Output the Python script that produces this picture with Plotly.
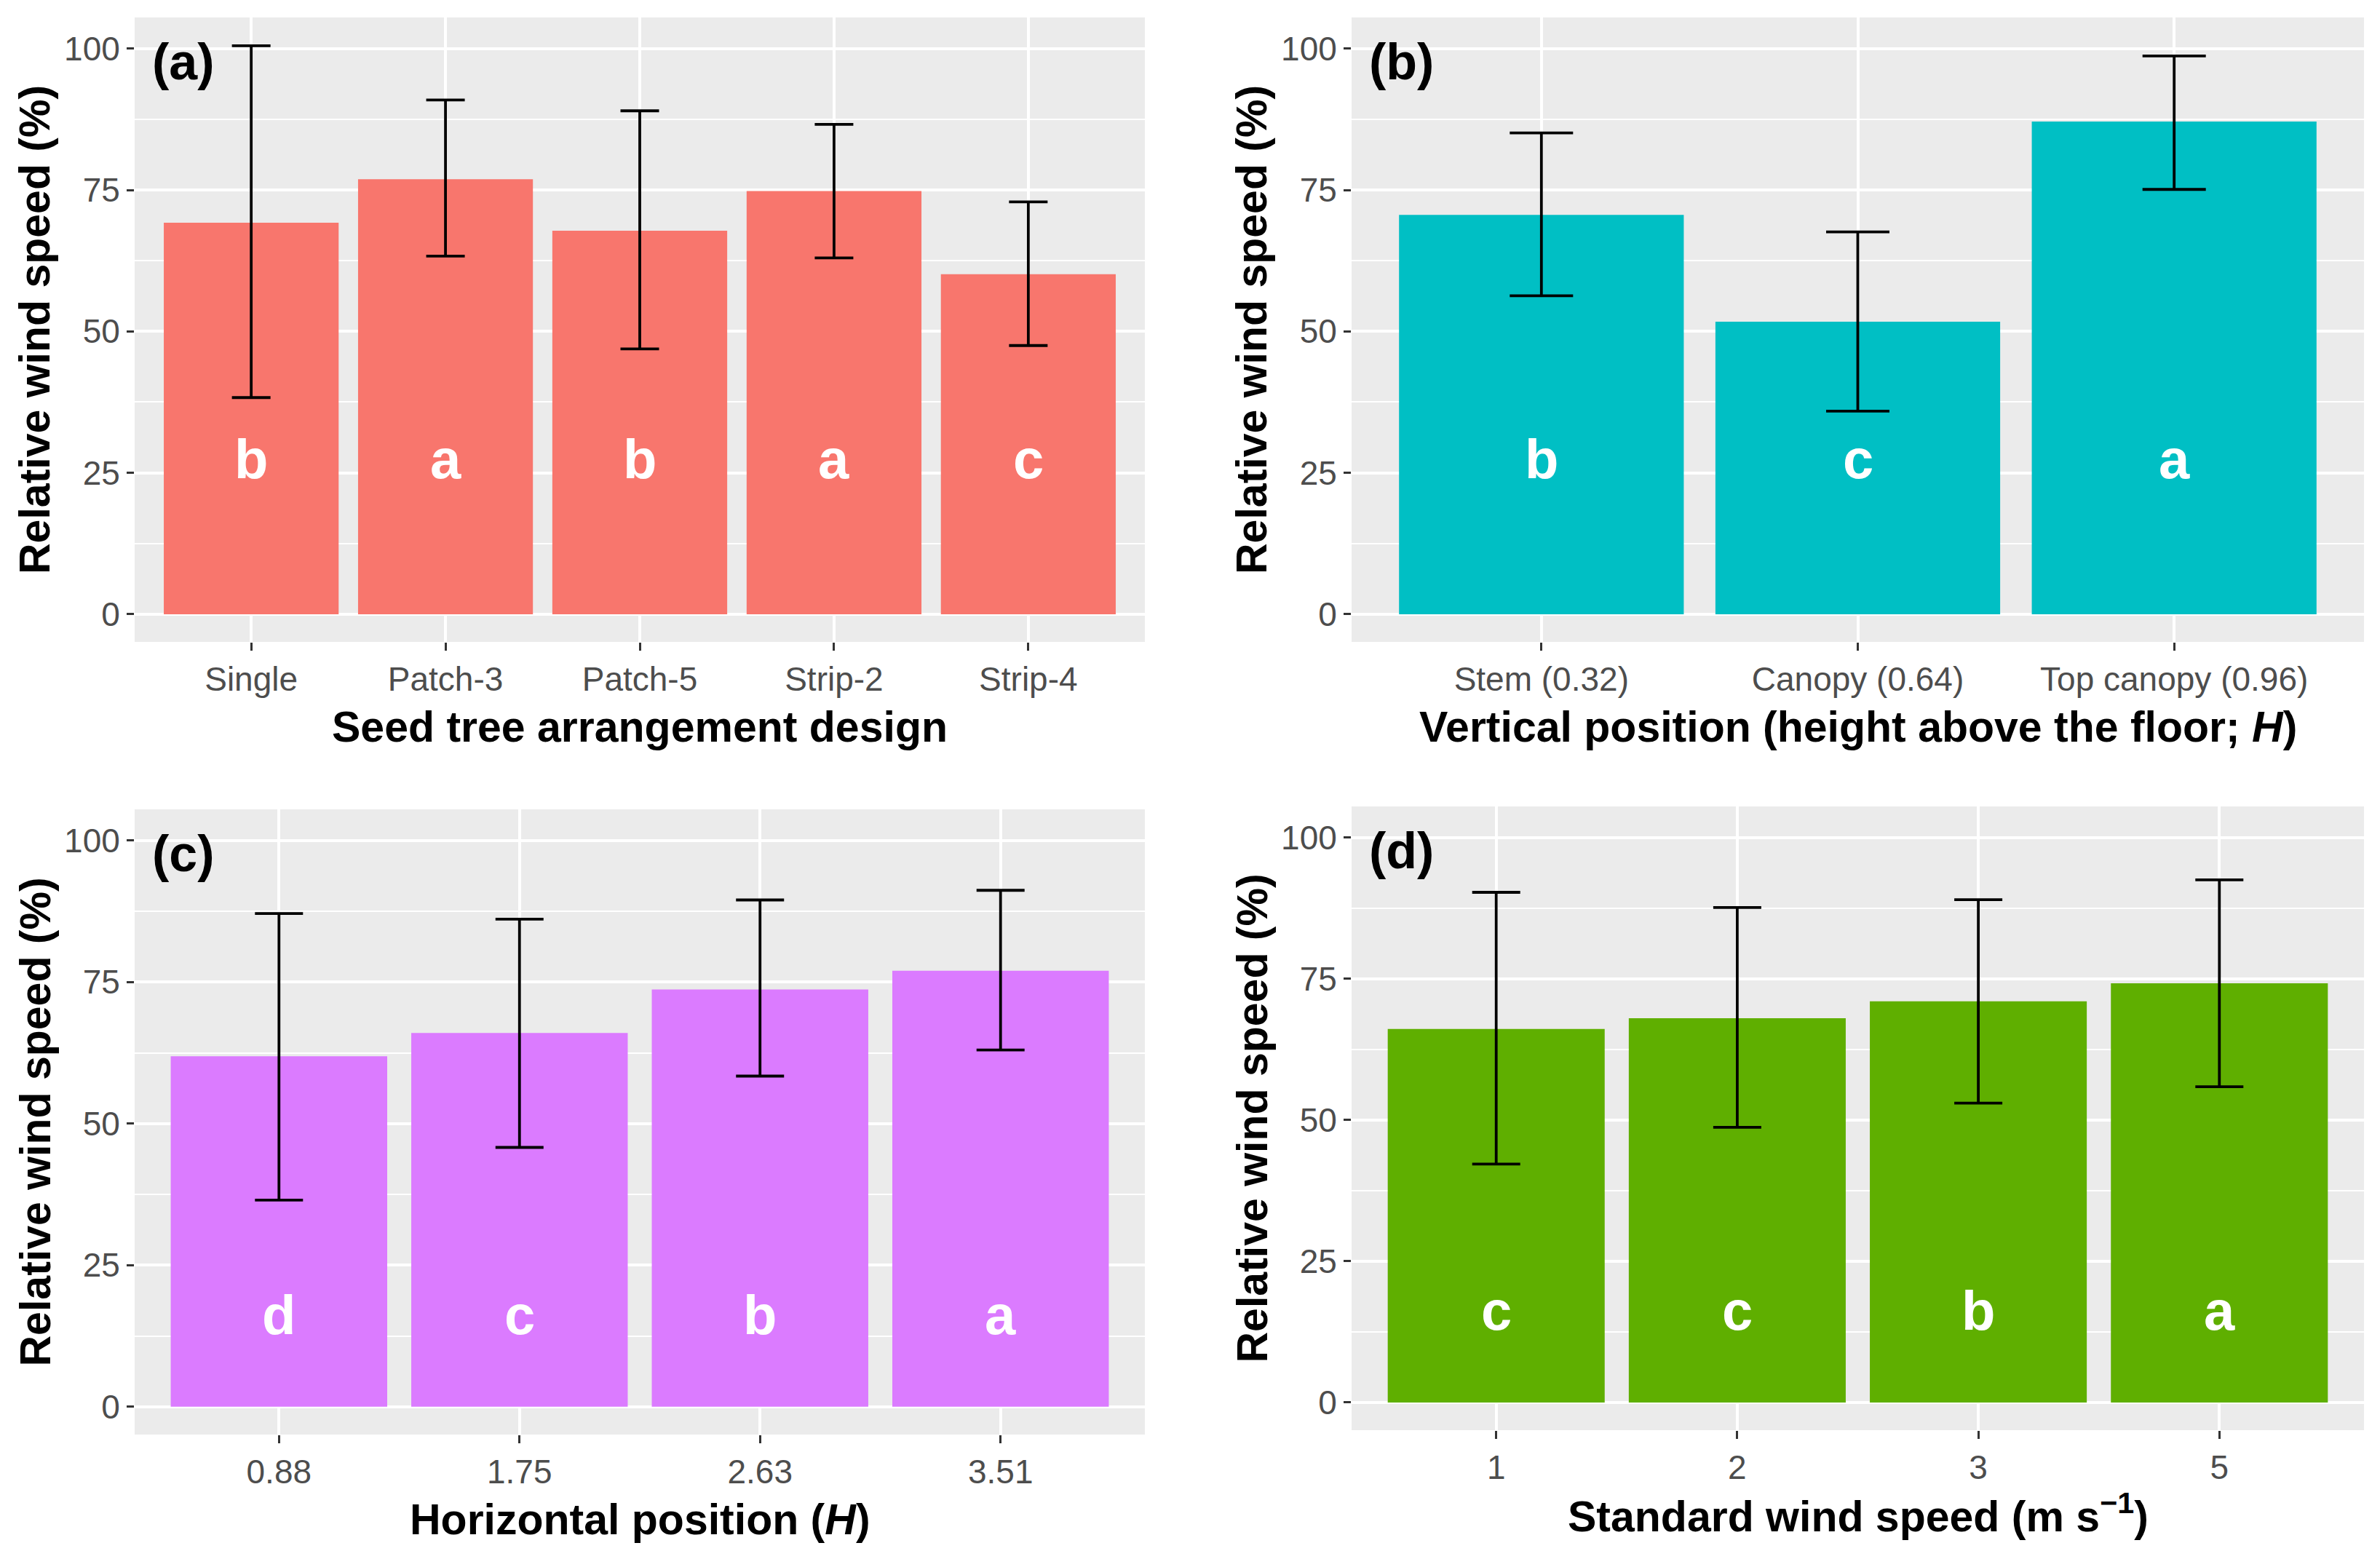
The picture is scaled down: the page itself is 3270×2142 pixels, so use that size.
import plotly.graph_objects as go

# ---------------- data ----------------
a_cats = ["Single", "Patch-3", "Patch-5", "Strip-2", "Strip-4"]
a_mean = [69.2, 76.9, 67.8, 74.8, 60.1]
a_upper = [100.5, 90.9, 89.0, 86.6, 72.9]
a_lower = [38.3, 63.3, 46.9, 63.0, 47.5]
a_letters = ["b", "a", "b", "a", "c"]

b_cats = ["Stem (0.32)", "Canopy (0.64)", "Top canopy (0.96)"]
b_mean = [70.6, 51.7, 87.1]
b_upper = [85.1, 67.6, 98.7]
b_lower = [56.3, 35.9, 75.1]
b_letters = ["b", "c", "a"]

c_cats = ["0.88", "1.75", "2.63", "3.51"]
c_mean = [61.9, 66.0, 73.7, 77.0]
c_upper = [87.1, 86.1, 89.5, 91.2]
c_lower = [36.5, 45.8, 58.4, 63.0]
c_letters = ["d", "c", "b", "a"]

d_cats = ["1", "2", "3", "5"]
d_mean = [66.1, 68.0, 71.0, 74.2]
d_upper = [90.3, 87.6, 89.0, 92.5]
d_lower = [42.2, 48.7, 53.0, 55.9]
d_letters = ["c", "c", "b", "a"]

y_ticks = [0, 25, 50, 75, 100]
panel_tags = ["(a)", "(b)", "(c)", "(d)"]
x_titles = [
    "<b>Seed tree arrangement design</b>",
    "<b>Vertical position (height above the floor; <i>H</i>)</b>",
    "<b>Horizontal position (<i>H</i>)</b>",
    "<b>Standard wind speed (m s<sup>−1</sup>)</b>",
]
y_title = "<b>Relative wind speed (%)</b>"

# ---------------- style / layout ----------------
W, H = 3270, 2142
FONT = "Liberation Sans, Arial, Helvetica, sans-serif"
colors = ["#F8766D", "#00BFC4", "#DB7BFF", "#5FAF00"]
letter_y = [27.5, 27.5, 16.3, 16.3]

# pixel boxes of panels: (left, right, top, bottom)
boxes = [(185, 1573, 24, 882), (1857, 3248, 24, 882),
         (185, 1573, 1112, 1971), (1857, 3248, 1108, 1965)]
xtitle_y_px = [999, 999, 2088, 2079]
ytitle_x_px = [48, 1720, 48, 1720]
cap_half = [26.5, 43.5, 33, 33]
yrange = [-4.9, 105.5]

panels = [
    (a_cats, a_mean, a_upper, a_lower, a_letters),
    (b_cats, b_mean, b_upper, b_lower, b_letters),
    (c_cats, c_mean, c_upper, c_lower, c_letters),
    (d_cats, d_mean, d_upper, d_lower, d_letters),
]

fig = go.Figure()
layout = dict(
    width=W, height=H, margin=dict(l=0, r=0, t=0, b=0),
    paper_bgcolor="white", plot_bgcolor="#EBEBEB",
    showlegend=False, font=dict(family=FONT), annotations=[],
    bargap=0.1,
)

for i, (cats, mean, up, lo, letters) in enumerate(panels):
    n = i + 1
    xa = "x" if n == 1 else f"x{n}"
    ya = "y" if n == 1 else f"y{n}"
    L, R, T, B = boxes[i]
    fig.add_trace(go.Bar(
        x=cats, y=mean, xaxis=xa, yaxis=ya,
        marker=dict(color=colors[i], line=dict(width=0)),
        error_y=dict(type="data", symmetric=False,
                     array=[u - m for u, m in zip(up, mean)],
                     arrayminus=[m - l for m, l in zip(mean, lo)],
                     color="black", thickness=3.8, width=cap_half[i]),
        hoverinfo="skip",
    ))
    xkey = "xaxis" if n == 1 else f"xaxis{n}"
    ykey = "yaxis" if n == 1 else f"yaxis{n}"
    layout[xkey] = dict(
        domain=[L / W, R / W], anchor=ya, type="category",
        categoryorder="array", categoryarray=cats,
        range=[-0.6, len(cats) - 0.4],
        showgrid=True, gridcolor="white", gridwidth=3.5,
        ticks="outside", ticklen=11, tickwidth=2.5, tickcolor="#333333",
        tickfont=dict(family=FONT, size=46, color="#4D4D4D"),
        zeroline=False, showline=False, fixedrange=True,
    )
    layout[ykey] = dict(
        domain=[1 - B / H, 1 - T / H], anchor=xa, range=yrange,
        tickvals=y_ticks, ticktext=[str(v) for v in y_ticks],
        showgrid=True, gridcolor="white", gridwidth=3.5,
        minor=dict(dtick=12.5, tick0=0, showgrid=True, gridcolor="white", gridwidth=1.7),
        ticks="outside", ticklen=10, tickwidth=2.5, tickcolor="#333333",
        tickfont=dict(family=FONT, size=46, color="#4D4D4D"),
        zeroline=False, showline=False, fixedrange=True,
    )
    # significance letters inside bars (category index positions)
    for j, letter in enumerate(letters):
        layout["annotations"].append(dict(
            text=f"<b>{letter}</b>", xref=xa, yref=ya, x=j, y=letter_y[i],
            xanchor="center", yanchor="middle", showarrow=False,
            font=dict(family=FONT, size=76, color="white"),
        ))
    # panel tag
    layout["annotations"].append(dict(
        text=f"<b>{panel_tags[i]}</b>", xref=f"{xa} domain", yref=ya,
        x=0.016, y=97.6, xanchor="left", yanchor="middle", showarrow=False,
        font=dict(family=FONT, size=70, color="black"),
    ))
    # x title
    layout["annotations"].append(dict(
        text=x_titles[i], xref="paper", yref="paper",
        x=(L + R) / 2 / W, y=1 - xtitle_y_px[i] / H,
        xanchor="center", yanchor="middle", showarrow=False,
        font=dict(family=FONT, size=59, color="black"),
    ))
    # y title
    layout["annotations"].append(dict(
        text=y_title, xref="paper", yref="paper",
        x=ytitle_x_px[i] / W, y=1 - (T + B) / 2 / H, textangle=-90,
        xanchor="center", yanchor="middle", showarrow=False,
        font=dict(family=FONT, size=59, color="black"),
    ))

fig.update_layout(**layout)
fig.write_html(
    "out.html",
    config={"displayModeBar": False},
    post_script="document.body.style.margin='0px';document.body.style.padding='0px';",
)
